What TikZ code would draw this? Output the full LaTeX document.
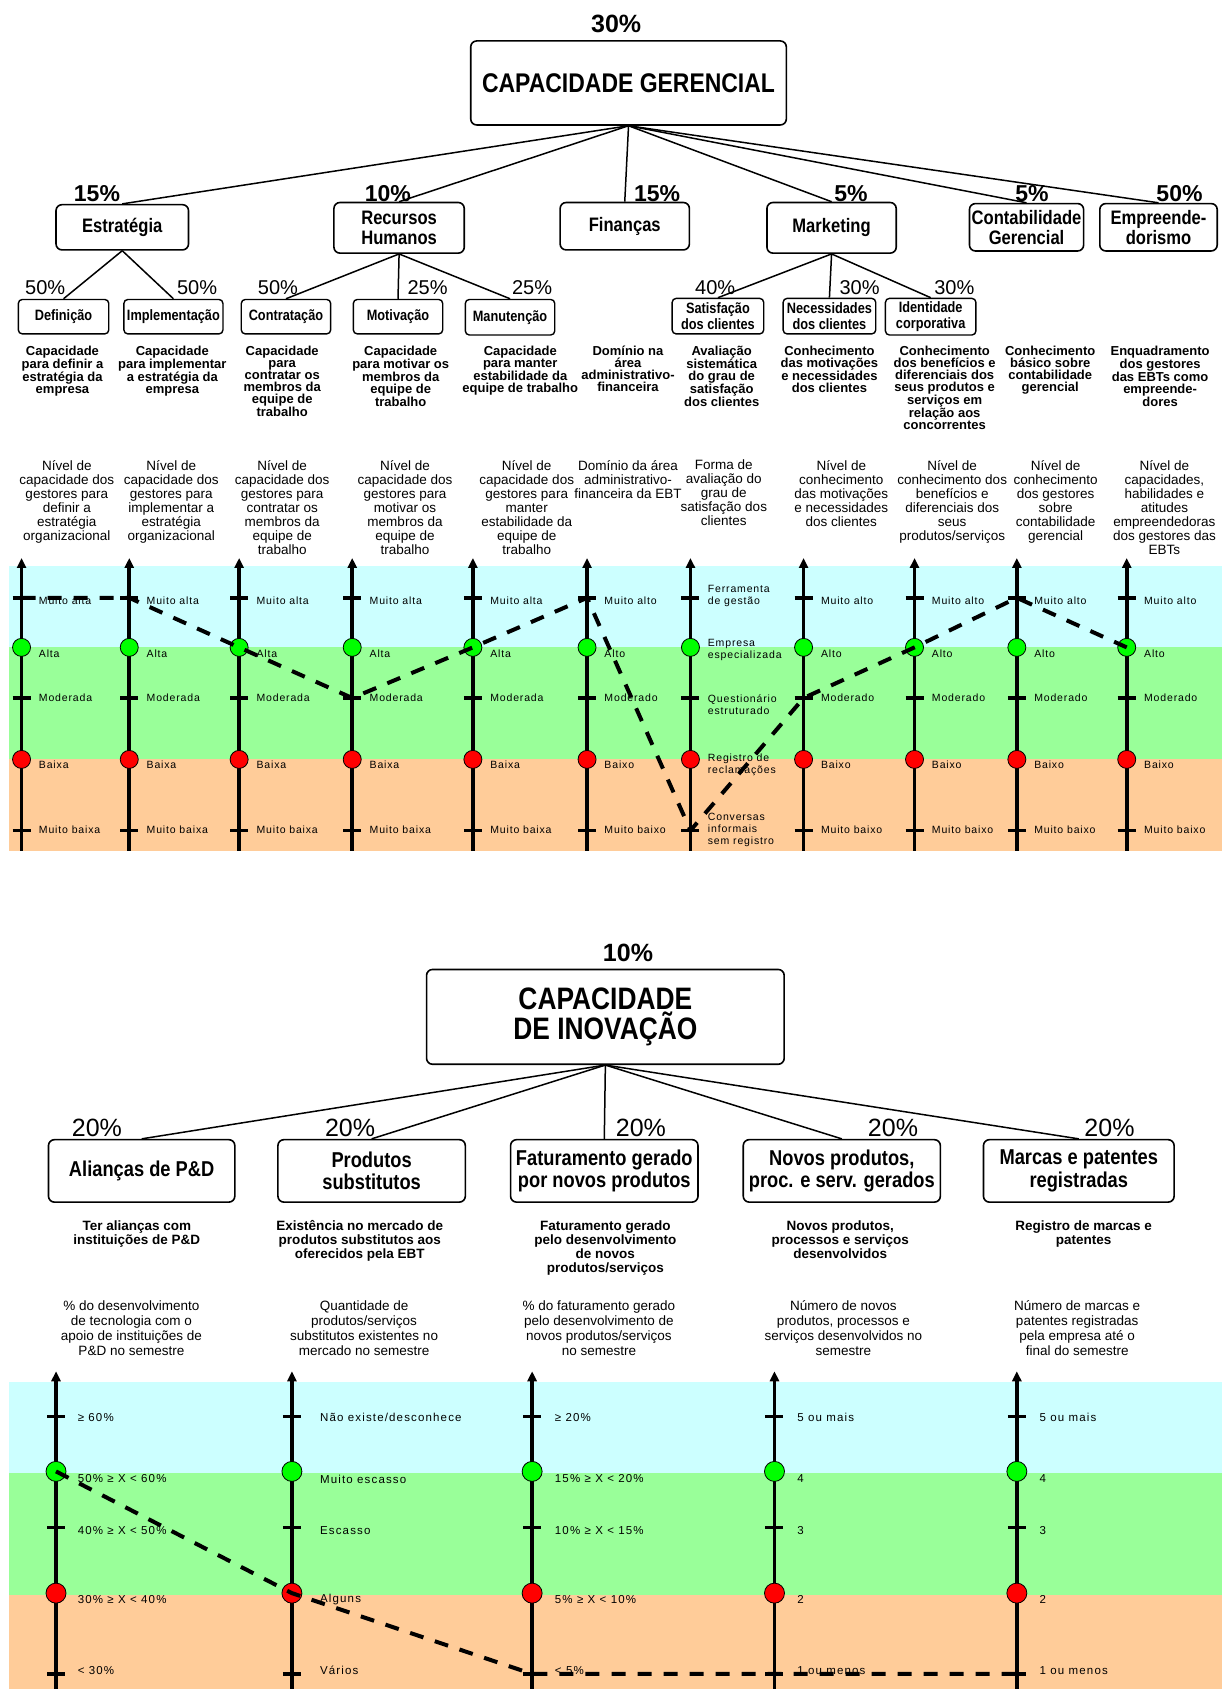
\documentclass[tikz,border=0pt]{standalone}
\usepackage{fontspec}
\setmainfont{Liberation Sans}
\newfontfamily\narrowfont[FakeStretch=0.85]{Liberation Sans}
\newfontfamily\trackfont[LetterSpace=8]{Liberation Sans}
\newfontfamily\trackwidefont[LetterSpace=10]{Liberation Sans}
\usetikzlibrary{arrows.meta}
\definecolor{bandblue}{HTML}{CCFFFF}
\definecolor{bandgreen}{HTML}{99FF99}
\definecolor{bandorange}{HTML}{FFCC99}
\definecolor{dotgreen}{HTML}{00FF00}
\definecolor{dotred}{HTML}{FF0000}
\begin{document}
\begin{tikzpicture}[x=1.0767pt,y=-1.0767pt,
  % a box given by its left, top, right and bottom edges
  span/.style n args={4}{at={({(#1+#3)/2},{(#2+#4)/2})},
    minimum width={(#3-#1)*1.0767pt},minimum height={(#4-#2)*1.0767pt}},
  box/.style={draw,line width=1.6pt,rounded corners=6pt,fill=white,inner sep=0pt,align=center},
  smallbox/.style={box,rounded corners=4pt,line width=1.4pt},
  headtxt/.style={font=\narrowfont\bfseries\fontsize{27}{30}\selectfont},
  headtwo/.style={font=\narrowfont\bfseries\fontsize{31}{30}\selectfont},
  onetxt/.style={font=\narrowfont\bfseries\fontsize{19.5}{19.5}\selectfont},
  twotxt/.style={font=\narrowfont\bfseries\fontsize{15}{15.5}\selectfont},
  innotxt/.style={font=\narrowfont\bfseries\fontsize{21.5}{22.5}\selectfont},
  pctbig/.style={inner sep=0pt,font=\bfseries\fontsize{25}{25}\selectfont},
  pctone/.style={inner sep=0pt,font=\bfseries\fontsize{23}{23}\selectfont},
  pcttwo/.style={inner sep=0pt,font=\fontsize{20}{20}\selectfont},
  pctinno/.style={inner sep=0pt,font=\fontsize{25}{25}\selectfont},
  desc/.style={anchor=north,align=center,inner sep=0pt,font=\bfseries\fontsize{13}{12}\selectfont},
  descb/.style={anchor=north,align=center,inner sep=0pt,font=\bfseries\fontsize{13.5}{14}\selectfont},
  ind/.style={anchor=north,align=center,inner sep=0pt,font=\fontsize{13.5}{14}\selectfont},
  indb/.style={anchor=north,align=center,inner sep=0pt,font=\fontsize{13.5}{15}\selectfont},
  lvl/.style={anchor=west,align=left,inner sep=0pt,font=\trackfont\fontsize{10.5}{12}\selectfont},
  lvlb/.style={anchor=west,align=left,inner sep=0pt,font=\trackwidefont\fontsize{11.5}{12}\selectfont},
  link/.style={line width=1.5pt},
  axis/.style={line width=3.6pt,-{Triangle[width=9pt,length=10pt]}},
  tickmark/.style={line width=3.4pt},
  dotg/.style={circle,draw,line width=0.8pt,fill=dotgreen,minimum size=18pt,inner sep=0pt},
  dotr/.style={circle,draw,line width=0.8pt,fill=dotred,minimum size=18pt,inner sep=0pt},
  profile/.style={line width=4pt,dash pattern=on 14pt off 12pt}
]
\useasboundingbox (0,0) rectangle (1134,1568);
\fill[white] (0,0) rectangle (1134,1568);

%% ===================== CAPACIDADE GERENCIAL =====================
% colour bands of the scale
\fill[bandblue]   (8,525) rectangle (1134,601);
\fill[bandgreen]  (8,601) rectangle (1134,705);
\fill[bandorange] (8,705) rectangle (1134,790);

% tree
\node[pctbig] (p0) at (572,22) {30\%};
\node[box,headtxt,span={437}{38}{730}{116}] (cg) {CAPACIDADE GERENCIAL};

\node[box,onetxt,span={52}{190}{175}{232}]    (est)  {Estratégia};
\node[box,onetxt,span={310}{188}{431}{235}]   (rh)   {Recursos\\Humanos};
\node[box,onetxt,span={520}{188}{640}{232}]   (fin)  {Finanças};
\node[box,onetxt,span={712}{188}{832}{235}]   (mkt)  {Marketing};
\node[box,onetxt,span={900}{189}{1006}{233}]  (cont) {Contabilidade\\Gerencial};
\node[box,onetxt,span={1021}{189}{1130}{233}] (emp)  {Empreende-\\dorismo};

\node[pctone] (pest)  at (90,180)   {15\%};
\node[pctone] (prh)   at (360,180)  {10\%};
\node[pctone] (pfin)  at (610,180)  {15\%};
\node[pctone] (pmkt)  at (790,180)  {5\%};
\node[pctone] (pcont) at (958,180)  {5\%};
\node[pctone] (pemp)  at (1095,180) {50\%};

\foreach \c in {est,rh,fin,mkt,cont,emp} \draw[link] (cg.south) -- (\c.north);

\node[smallbox,twotxt,span={17}{278}{101}{310}]  (def) {Definição};
\node[smallbox,twotxt,span={115}{278}{207}{310}] (imp) {Implementação};
\node[smallbox,twotxt,span={224}{278}{307}{310}] (ctr) {Contratação};
\node[smallbox,twotxt,span={328}{278}{411}{310}] (mot) {Motivação};
\node[smallbox,twotxt,span={432}{278}{515}{311}] (man) {Manutenção};
\node[smallbox,twotxt,span={624}{277}{709}{310}] (sat) {Satisfação\\dos clientes};
\node[smallbox,twotxt,span={727}{277}{813}{310}] (nec) {Necessidades\\dos clientes};
\node[smallbox,twotxt,span={822}{277}{906}{311}] (ide) {Identidade\\corporativa};

\node[pcttwo] (pdef) at (42,267)  {50\%};
\node[pcttwo] (pimp) at (183,267) {50\%};
\node[pcttwo] (pctr) at (258,267) {50\%};
\node[pcttwo] (pmot) at (397,267) {25\%};
\node[pcttwo] (pman) at (494,267) {25\%};
\node[pcttwo] (psat) at (664,267) {40\%};
\node[pcttwo] (pnec) at (798,267) {30\%};
\node[pcttwo] (pide) at (886,267) {30\%};

\foreach \c in {def,imp} \draw[link] (est.south) -- (\c.north);
\foreach \c in {ctr,mot,man} \draw[link] (rh.south) -- (\c.north);
\foreach \c in {sat,nec,ide} \draw[link] (mkt.south) -- (\c.north);

% what each item means
\node[desc] (d1)  at (58,321)   {Capacidade\\para definir a\\estratégia da\\empresa};
\node[desc] (d2)  at (160,321)  {Capacidade\\para implementar\\a estratégia da\\empresa};
\node[desc] (d3)  at (262,321)  {Capacidade\\para\\contratar os\\membros da\\equipe de\\trabalho};
\node[desc] (d4)  at (372,321)  {Capacidade\\para motivar os\\membros da\\equipe de\\trabalho};
\node[desc] (d5)  at (483,321)  {Capacidade\\para manter\\estabilidade da\\equipe de trabalho};
\node[desc] (d6)  at (583,321)  {Domínio na\\área\\administrativo-\\financeira};
\node[desc] (d7)  at (670,321)  {Avaliação\\sistemática\\do grau de\\satisfação\\dos clientes};
\node[desc] (d8)  at (770,321)  {Conhecimento\\das motivações\\e necessidades\\dos clientes};
\node[desc] (d9)  at (877,321)  {Conhecimento\\dos benefícios e\\diferenciais dos\\seus produtos e\\serviços em\\relação aos\\concorrentes};
\node[desc] (d10) at (975,321)  {Conhecimento\\básico sobre\\contabilidade\\gerencial};
\node[desc] (d11) at (1077,321) {Enquadramento\\dos gestores\\das EBTs como\\empreende-\\dores};

% indicators
\node[ind] (i1)  at (62,427)   {Nível de\\capacidade dos\\gestores para\\definir a\\estratégia\\organizacional};
\node[ind] (i2)  at (159,427)  {Nível de\\capacidade dos\\gestores para\\implementar a\\estratégia\\organizacional};
\node[ind] (i3)  at (262,427)  {Nível de\\capacidade dos\\gestores para\\contratar os\\membros da\\equipe de\\trabalho};
\node[ind] (i4)  at (376,427)  {Nível de\\capacidade dos\\gestores para\\motivar os\\membros da\\equipe de\\trabalho};
\node[ind] (i5)  at (489,427)  {Nível de\\capacidade dos\\gestores para\\manter\\estabilidade da\\equipe de\\trabalho};
\node[ind] (i6)  at (583,427)  {Domínio da área\\administrativo-\\financeira da EBT};
\node[ind] (i7)  at (672,427)  {Forma de\\avaliação do\\grau de\\satisfação dos\\clientes};
\node[ind] (i8)  at (781,427)  {Nível de\\conhecimento\\das motivações\\e necessidades\\dos clientes};
\node[ind] (i9)  at (884,427)  {Nível de\\conhecimento dos\\benefícios e\\diferenciais dos\\seus\\produtos/serviços};
\node[ind] (i10) at (980,427)  {Nível de\\conhecimento\\dos gestores\\sobre\\contabilidade\\gerencial};
\node[ind] (i11) at (1081,427) {Nível de\\capacidades,\\habilidades e\\atitudes\\empreendedoras\\dos gestores das\\EBTs};

% scales
\foreach \i/\x in {1/20,2/120,3/222,4/327,5/439,6/545,7/641,8/746,9/849,10/944,11/1046}{
  \coordinate (ab\i) at (\x,790);
  \coordinate (at\i) at (\x,518);
  \coordinate (q\i-1) at (\x,555);
  \coordinate (q\i-3) at (\x,648);
  \coordinate (q\i-5) at (\x,771);
  \draw[axis] (ab\i) -- (at\i);
  \foreach \k in {1,3,5} \draw[tickmark] ([xshift=-9pt]q\i-\k) -- ([xshift=9pt]q\i-\k);
  \node[dotg] (q\i-2) at (\x,601) {};
  \node[dotr] (q\i-4) at (\x,705) {};
}

\foreach \i/\x/\a/\b/\c/\d/\e in {
  1/20/Muito alta/Alta/Moderada/Baixa/Muito baixa,
  2/120/Muito alta/Alta/Moderada/Baixa/Muito baixa,
  3/222/Muito alta/Alta/Moderada/Baixa/Muito baixa,
  4/327/Muito alta/Alta/Moderada/Baixa/Muito baixa,
  5/439/Muito alta/Alta/Moderada/Baixa/Muito baixa,
  6/545/Muito alto/Alto/Moderado/Baixo/Muito baixo,
  8/746/Muito alto/Alto/Moderado/Baixo/Muito baixo,
  9/849/Muito alto/Alto/Moderado/Baixo/Muito baixo,
  10/944/Muito alto/Alto/Moderado/Baixo/Muito baixo,
  11/1046/Muito alto/Alto/Moderado/Baixo/Muito baixo}{
  \node[lvl] (n\i-1) at (\x+16,558) {\a};
  \node[lvl] (n\i-2) at (\x+16,607) {\b};
  \node[lvl] (n\i-3) at (\x+16,648) {\c};
  \node[lvl] (n\i-4) at (\x+16,710) {\d};
  \node[lvl] (n\i-5) at (\x+16,770) {\e};
}
\node[lvl] (n7-1) at (657,553) {Ferramenta\\de gestão};
\node[lvl] (n7-2) at (657,603) {Empresa\\especializada};
\node[lvl] (n7-3) at (657,654) {Questionário\\estruturado};
\node[lvl] (n7-4) at (657,710) {Registro de\\reclamações};
\node[lvl] (n7-5) at (657,770) {Conversas\\informais\\sem registro};

% profile of the company
\draw[profile] (q1-1) -- (q2-1) -- (q3-2.center) -- (q4-3) -- (q5-2.center) -- (q6-1)
  -- (q7-5) -- (q8-3) -- (q9-2.center) -- (q10-1) -- (q11-2.center);

%% ===================== CAPACIDADE DE INOVAÇÃO =====================
\fill[bandblue]   (8,1283) rectangle (1134,1367);
\fill[bandgreen]  (8,1367) rectangle (1134,1481);
\fill[bandorange] (8,1481) rectangle (1134,1568);

\node[pctbig] (p1) at (583,885) {10\%};
\node[box,headtwo,span={396}{900}{728}{988}] (ci) {CAPACIDADE\\DE INOVAÇÃO};

\node[box,innotxt,span={45}{1058}{218}{1116}]   (ali) {Alianças de P\&D};
\node[box,innotxt,span={258}{1058}{432}{1116}]  (sub) {Produtos\\substitutos};
\node[box,innotxt,span={474}{1058}{648}{1116}]  (fat) {Faturamento gerado\\por novos produtos};
\node[box,innotxt,span={690}{1058}{873}{1116}]  (nov) {Novos produtos,\\proc. e serv. gerados};
\node[box,innotxt,span={913}{1058}{1090}{1116}] (mar) {Marcas e patentes\\registradas};

\node[pctinno] (pali) at (90,1047)   {20\%};
\node[pctinno] (psub) at (325,1047)  {20\%};
\node[pctinno] (pfat) at (595,1047)  {20\%};
\node[pctinno] (pnov) at (829,1047)  {20\%};
\node[pctinno] (pmar) at (1030,1047) {20\%};

\foreach \c in {ali,sub,fat,nov,mar} \draw[link] (ci.south) -- (\c.north);

\node[descb] (e1) at (127,1133)  {Ter alianças com\\instituições de P\&D};
\node[descb] (e2) at (334,1133)  {Existência no mercado de\\produtos substitutos aos\\oferecidos pela EBT};
\node[descb] (e3) at (562,1133)  {Faturamento gerado\\pelo desenvolvimento\\de novos\\produtos/serviços};
\node[descb] (e4) at (780,1133)  {Novos produtos,\\processos e serviços\\desenvolvidos};
\node[descb] (e5) at (1006,1133) {Registro de marcas e\\patentes};

\node[indb] (j1) at (122,1207)  {\% do desenvolvimento\\de tecnologia com o\\apoio de instituições de\\P\&D no semestre};
\node[indb] (j2) at (338,1207)  {Quantidade de\\produtos/serviços\\substitutos existentes no\\mercado no semestre};
\node[indb] (j3) at (556,1207)  {\% do faturamento gerado\\pelo desenvolvimento de\\novos produtos/serviços\\no semestre};
\node[indb] (j4) at (783,1207)  {Número de novos\\produtos, processos e\\serviços desenvolvidos no\\semestre};
\node[indb] (j5) at (1000,1207) {Número de marcas e\\patentes registradas\\pela empresa até o\\final do semestre};

\foreach \i/\x in {1/52,2/271,3/494,4/719,5/944}{
  \coordinate (sb\i) at (\x,1568);
  \coordinate (st\i) at (\x,1273);
  \coordinate (s\i-1) at (\x,1315);
  \coordinate (s\i-3) at (\x,1418);
  \coordinate (s\i-5) at (\x,1554);
  \draw[axis] (sb\i) -- (st\i);
  \foreach \k in {1,3,5} \draw[tickmark] ([xshift=-9pt]s\i-\k) -- ([xshift=9pt]s\i-\k);
  \node[dotg,minimum size=20pt] (s\i-2) at (\x,1366) {};
  \node[dotr,minimum size=20pt] (s\i-4) at (\x,1479) {};
}

\foreach \i/\x/\a/\b/\c/\d/\e in {
  1/72/{≥ 60\%}/{50\% ≥ X < 60\%}/{40\% ≥ X < 50\%}/{30\% ≥ X < 40\%}/{< 30\%},
  2/297/{Não existe/desconhece}/{Muito escasso}/{Escasso}/{Alguns}/{Vários},
  3/515/{≥ 20\%}/{15\% ≥ X < 20\%}/{10\% ≥ X < 15\%}/{5\% ≥ X < 10\%}/{< 5\%},
  4/740/{5 ou mais}/4/3/2/{1 ou menos},
  5/965/{5 ou mais}/4/3/2/{1 ou menos}}{
  \node[lvlb] (m\i-1) at (\x,1316) {\a};
  \node[lvlb] (m\i-2) at (\x,1373) {\b};
  \node[lvlb] (m\i-3) at (\x,1421) {\c};
  \node[lvlb] (m\i-4) at (\x,1485) {\d};
  \node[lvlb] (m\i-5) at (\x,1551) {\e};
}

\draw[profile] (s1-2.center) -- (s2-4.center) -- (s3-5) -- (s5-5);
\end{tikzpicture}
\end{document}
